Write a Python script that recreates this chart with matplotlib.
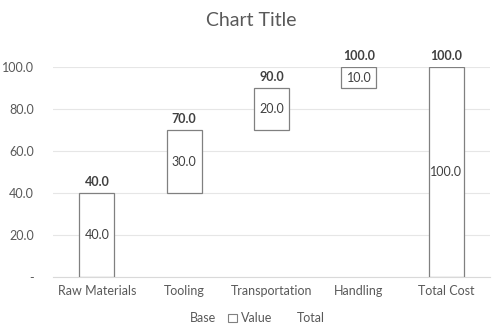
import matplotlib.pyplot as plt
from matplotlib.patches import Patch

# ---- data ----
categories = ['Raw Materials', 'Tooling', 'Transportation', 'Handling', 'Total Cost']
base = [0, 40, 70, 90, 0]
value = [40, 30, 20, 10, 0]
total = [0, 0, 0, 0, 100]
top_labels = [40, 70, 90, 100, 100]

plt.rcParams['font.family'] = ['Lato', 'DejaVu Sans']
grey = '#595959'
edge = '#808080'

fig = plt.figure(figsize=(5.02, 3.35), dpi=100)
ax = fig.add_axes([0.106, 0.173, 0.87, 0.627])

x = list(range(len(categories)))
w = 0.4

# base is invisible, value/total are white boxes with grey outline (zero-height bars get no outline)
value_edges = [edge if v > 0 else 'none' for v in value]
total_edges = [edge if t > 0 else 'none' for t in total]
ax.bar(x, base, width=w, color='none', edgecolor='none')
ax.bar(x, value, width=w, bottom=base, color='white', edgecolor=value_edges, linewidth=0.9, zorder=3)
ax.bar(x, total, width=w, color='white', edgecolor=total_edges, linewidth=0.9, zorder=3)

for i in x:
    if value[i] > 0:
        ax.text(i, base[i] + value[i] / 2, f'{value[i]:.1f}', ha='center', va='center',
                fontsize=9, color='#404040', zorder=4)
    if total[i] > 0:
        ax.text(i, total[i] / 2, f'{total[i]:.1f}', ha='center', va='center',
                fontsize=9, color='#404040', zorder=4)
    ax.text(i, top_labels[i] + 2.5, f'{top_labels[i]:.1f}', ha='center', va='bottom',
            fontsize=9, fontweight='bold', color='#404040')

ax.set_xlim(-0.5, len(categories) - 0.5)
ax.set_ylim(0, 100)
ax.set_yticks([0, 20, 40, 60, 80, 100])
ax.set_yticklabels(['-', '20.0', '40.0', '60.0', '80.0', '100.0'])
ax.set_xticks(x)
ax.set_xticklabels(categories)
ax.tick_params(axis='both', length=0, colors=grey, labelsize=9)
ax.tick_params(axis='y', pad=14)
ax.tick_params(axis='x', pad=6)
ax.grid(axis='y', color='#e6e6e6', linewidth=0.8, zorder=0)
ax.set_axisbelow(True)
for s in ax.spines.values():
    s.set_visible(False)
ax.spines['bottom'].set_visible(True)
ax.spines['bottom'].set_color('#d9d9d9')

fig.text(0.5, 0.94, 'Chart Title', ha='center', va='center', fontsize=14, color=grey)

handles = [Patch(facecolor='none', edgecolor='none'),
           Patch(facecolor='white', edgecolor=edge, linewidth=0.8),
           Patch(facecolor='none', edgecolor='none')]
fig.legend(handles, ['Base', 'Value', 'Total'], loc='center', bbox_to_anchor=(0.5, 0.05),
           ncol=3, frameon=False, fontsize=9, labelcolor=grey,
           handlelength=0.7, handleheight=0.7, handletextpad=0.3, columnspacing=1.0)

fig.savefig('out.png', dpi=100)
